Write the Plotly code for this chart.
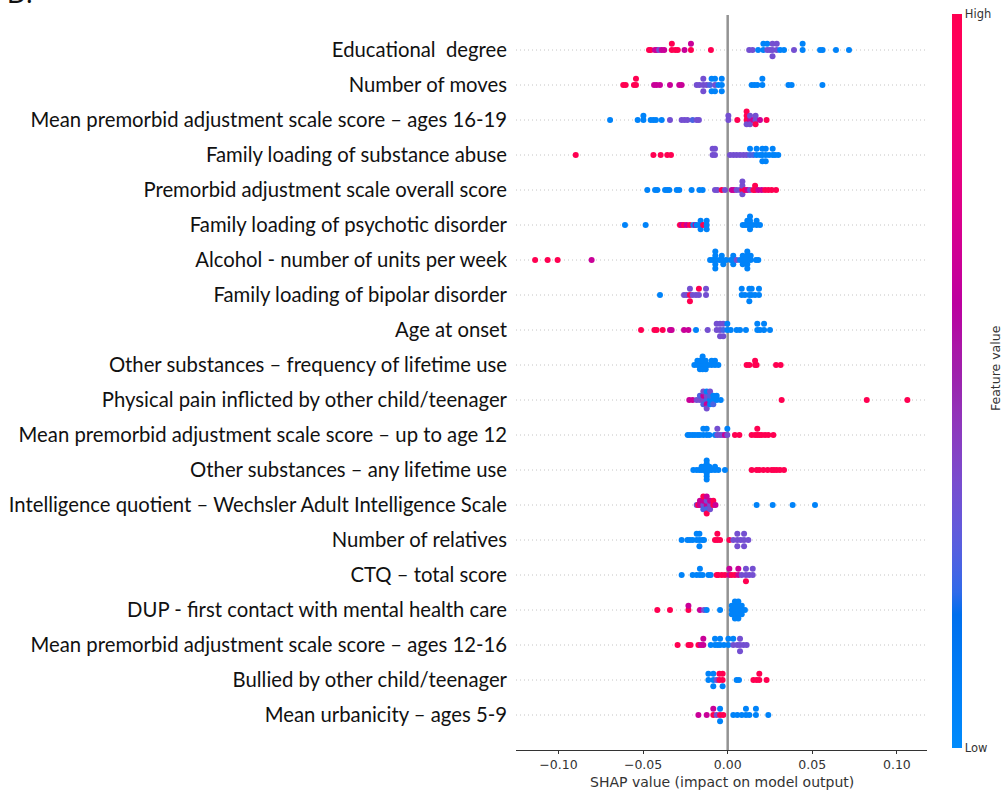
import numpy as np
import plotly.graph_objects as go

# feature-value levels (0 = low, 1 = high)
R, M, P, V, B = 1.0, 0.65, 0.35, 0.25, 0.05

features = [
    "Educational\u00a0 degree",
    "Number of moves",
    "Mean premorbid adjustment scale score – ages 16-19",
    "Family loading of substance abuse",
    "Premorbid adjustment scale overall score",
    "Family loading of psychotic disorder",
    "Alcohol - number of units per week",
    "Family loading of bipolar disorder",
    "Age at onset",
    "Other substances – frequency of lifetime use",
    "Physical pain inflicted by other child/teenager",
    "Mean premorbid adjustment scale score – up to age 12",
    "Other substances – any lifetime use",
    "Intelligence quotient – Wechsler Adult Intelligence Scale",
    "Number of relatives",
    "CTQ – total score",
    "DUP - first contact with mental health care",
    "Mean premorbid adjustment scale score – ages 12-16",
    "Bullied by other child/teenager",
    "Mean urbanicity – ages 5-9",
]

educational_shap = [-0.0465, -0.0455, -0.043, -0.0418, -0.0405, -0.039, -0.0375, -0.033, -0.033, -0.031,
                    -0.0295, -0.0255, -0.0217, -0.0217, -0.0099,
                    0.0127, 0.0147, 0.018, 0.0211, 0.0211, 0.0234, 0.0234, 0.025, 0.0265, 0.0265, 0.0265,
                    0.029, 0.029, 0.031, 0.0333, 0.0392, 0.0443, 0.0443, 0.0546, 0.0561, 0.064, 0.0717]
educational_level = [R, R, M, M, P, M, M, R, R, R, R, M, R, M, R,
                     P, P, B, B, B, P, B, P, P, P, P, P, P, B, B, P, B, B, B, B, B, B]

moves_shap = [-0.0617, -0.0603, -0.0554, -0.0542, -0.0542, -0.0435, -0.042, -0.040, -0.0341, -0.0286,
              -0.0272, -0.0183, -0.0167, -0.0144, -0.0144, -0.0144, -0.0124, -0.0105, -0.0095, -0.0095,
              -0.0075, -0.0075, -0.0075, -0.0055, -0.0035, -0.0035, -0.0035,
              0.0142, 0.0158, 0.0175, 0.0205, 0.0205, 0.0359, 0.0378, 0.056]
moves_level = [R, R, R, R, R, M, M, M, M, M, M, P, P, P, P, P, P, V, B, B, P, B, B, B, B, B, B,
               B, B, B, B, B, B, B, B]

pas_16_19_shap = [-0.0695, -0.0532, -0.0498, -0.0498, -0.0455, -0.0439, -0.0424, -0.039, -0.0341, -0.0272,
                  -0.0255, -0.0238, -0.0207, -0.0183, -0.017,
                  0.0004, 0.0004, 0.0057, 0.0112, 0.0112, 0.0112, 0.0112, 0.0132, 0.0132, 0.0132, 0.0152,
                  0.0165, 0.0165, 0.0165, 0.0191, 0.023]
pas_16_19_level = [B, B, B, B, B, B, B, B, P, P, P, P, V, P, P,
                   P, P, R, R, R, P, R, M, P, P, M, P, P, R, M, R]

substance_family_shap = [-0.0898, -0.0439, -0.0396, -0.0357, -0.0335, -0.0089, -0.0089, -0.0075, -0.0075,
                         0.0014, 0.0034, 0.0053, 0.0073, 0.0093, 0.0112, 0.0132, 0.0132, 0.0152, 0.0171,
                         0.0171, 0.0191, 0.0205, 0.0205, 0.0205, 0.0225, 0.0225, 0.0225, 0.0245, 0.0266,
                         0.0266, 0.028, 0.0299]
substance_family_level = [R, R, R, R, R, P, P, P, P,
                          P, P, P, P, P, P, V, B, V, B, B, B, B, B, B, B, B, B, B, B, B, B, B]

pas_overall_shap = [-0.0475, -0.0429, -0.0416, -0.037, -0.0357, -0.0345, -0.0301, -0.0286, -0.0213, -0.0167,
                    -0.0148, -0.0075, -0.0061, -0.0035, -0.0016,
                    0.0024, 0.0037, 0.0053, 0.0073, 0.0087, 0.0087, 0.0087, 0.0087, 0.0102, 0.0116, 0.0132,
                    0.0152, 0.0162, 0.0162, 0.0181, 0.0201, 0.0221, 0.024, 0.026, 0.0286]
pas_overall_level = [B, B, B, B, B, B, B, B, B, B, B, P, P, R, P,
                     M, M, P, P, R, P, P, P, R, M, P, R, R, R, M, M, R, R, R, R]

psychotic_family_shap = [-0.0607, -0.0485, -0.0282, -0.027, -0.0258, -0.0242, -0.0223, -0.0203, -0.019,
                         -0.0183, -0.016, -0.016, -0.016, -0.0145, -0.0124, -0.0124, -0.0124,
                         0.0089, 0.0102, 0.0116, 0.0116, 0.0132, 0.0132, 0.0132, 0.0132, 0.0148, 0.0171,
                         0.0171, 0.0191]
psychotic_family_level = [B, B, R, M, R, M, R, B, M, B, B, B, B, R, B, B, B,
                          B, B, B, B, B, B, B, B, B, B, B, B]

alcohol_shap = [-0.1138, -0.1064, -0.1005, -0.0804, -0.0104, -0.0089, -0.0073, -0.0073, -0.0073, -0.0073,
                -0.0073, -0.0049, -0.0035, -0.0035, -0.0026, -0.001, 0.0018, 0.0033, 0.0033, 0.0033,
                0.0053, 0.0073, 0.0089, 0.0089, 0.0089, 0.0102, 0.0116, 0.0116, 0.0116, 0.0116, 0.0116,
                0.0136, 0.0136, 0.0167, 0.0181]
alcohol_level = [R, R, R, M, B, B, B, B, B, B, B, B, B, B, B, B, B, B, B, B,
                 P, B, B, B, B, B, B, B, B, B, B, B, B, B, B]

bipolar_family_shap = [-0.040, -0.0258, -0.0242, -0.0223, -0.0223, -0.0223, -0.0207, -0.0187, -0.017,
                       -0.017, -0.0128, -0.0128,
                       0.0083, 0.0083, 0.0102, 0.0128, 0.0128, 0.0128, 0.0142, 0.0142, 0.0162, 0.0185,
                       0.0185]
bipolar_family_level = [B, P, P, R, P, R, P, P, P, R, P, P,
                        B, B, B, B, B, B, B, B, B, B, B]

onset_shap = [-0.0512, -0.0433, -0.042, -0.0384, -0.0341, -0.0331, -0.0258, -0.0232, -0.0187, -0.0118,
              -0.0065, -0.0065, -0.0045, -0.0045, -0.0045, -0.0026, -0.0026, -0.0026, -0.0002, -0.0002,
              0.0018, 0.0053, 0.0073, 0.0108, 0.0175, 0.0175, 0.0191, 0.0215, 0.0215, 0.025]
onset_level = [R, R, R, R, M, M, M, M, B, P, P, P, P, P, P, V, P, P, B, B,
               B, B, B, B, B, B, B, B, B, B]

substance_freq_shap = [-0.0197, -0.0179, -0.0179, -0.0164, -0.0164, -0.0164, -0.0148, -0.0148, -0.0148,
                       -0.0148, -0.013, -0.013, -0.013, -0.0114, -0.0095, -0.0095, -0.0075, -0.0075,
                       -0.0055, 0.0112, 0.0128, 0.0162, 0.0162, 0.0171, 0.0286, 0.0313]
substance_freq_level = [B, B, B, B, B, B, B, B, B, B, B, B, B, B, B, B, B, B, B,
                        R, R, R, R, R, R, R]

physical_pain_shap = [-0.0227, -0.0207, -0.0183, -0.0164, -0.0164, -0.0144, -0.0144, -0.0144, -0.0144,
                      -0.0124, -0.0124, -0.0124, -0.0124, -0.0124, -0.0104, -0.0104, -0.0104, -0.0104,
                      -0.0085, -0.0085, -0.0085, -0.0065, -0.0065, -0.0041, 0.0319, 0.0822, 0.1062]
physical_pain_level = [M, M, P, P, V, P, M, V, P, V, P, M, B, P, B, V, B, P, B, B, V, B, B, B, R, R, R]

pas_12_shap = [-0.0236, -0.0223, -0.0207, -0.0193, -0.0177, -0.0164, -0.0144, -0.0144, -0.0124, -0.0124,
               -0.0108, -0.0075, -0.0061, -0.0061, -0.0045, -0.003, -0.0016, -0.0002, -0.0002, 0.0043,
               0.0069, 0.0142, 0.0162, 0.0175, 0.0175, 0.0188, 0.0201, 0.0221, 0.024, 0.027]
pas_12_level = [B, B, B, B, B, B, B, B, B, B, B, B, P, P, P, P, M, P, B, R,
                R, R, R, R, R, R, R, R, R, R]

substance_any_shap = [-0.0203, -0.0183, -0.0167, -0.0154, -0.0154, -0.014, -0.014, -0.0124, -0.0124,
                      -0.0124, -0.0124, -0.0124, -0.0124, -0.0124, -0.0108, -0.0108, -0.0095, -0.0075,
                      -0.0075, -0.0055, -0.0016,
                      0.0142, 0.0171, 0.0187, 0.0211, 0.0236, 0.026, 0.0274, 0.029, 0.0309, 0.0333]
substance_any_level = [B, B, B, B, B, B, B, B, B, B, B, B, B, B, B, B, B, B, B, B, B,
                       R, R, R, R, R, R, R, R, R, R]

iq_shap = [-0.0183, -0.0175, -0.0164, -0.0164, -0.0144, -0.0144, -0.0144, -0.0144, -0.0124, -0.0124,
           -0.0124, -0.0124, -0.0124, -0.0104, -0.0104, -0.0104, -0.0085, -0.0085, -0.0072,
           0.0171, 0.0266, 0.0384, 0.0516]
iq_level = [P, R, M, M, P, M, V, R, M, P, V, M, R, P, M, P, R, R, M, B, B, B, B]

relatives_shap = [-0.0272, -0.0238, -0.0223, -0.0207, -0.0183, -0.0183, -0.0167, -0.0167, -0.0167, -0.015,
                  -0.014, -0.0075, -0.0061, -0.0061, -0.0045, 0.001, 0.0033, 0.0057, 0.0057, 0.0057,
                  0.0077, 0.0097, 0.0097, 0.0097, 0.0122]
relatives_level = [B, B, B, B, B, B, B, B, B, B, B, R, R, R, R, R, P, P, P, P, P, P, P, P, P]

ctq_shap = [-0.0272, -0.0207, -0.0183, -0.0164, -0.0164, -0.0148, -0.0114, -0.010, -0.0065, -0.0055,
            -0.0035, -0.0016, 0.001, 0.001, 0.0024, 0.0043, 0.0063, 0.0063, 0.0083, 0.0108, 0.0108,
            0.0108, 0.0128, 0.0148, 0.0148]
ctq_level = [B, B, B, B, B, B, B, B, R, R, R, R, M, M, R, R, M, M, P, P, P, R, P, P, P]

dup_shap = [-0.0416, -0.0341, -0.0232, -0.0232, -0.0164, -0.014, -0.0124, -0.0045, 0.0024, 0.0024,
            0.0024, 0.0043, 0.0043, 0.0043, 0.0043, 0.0043, 0.0063, 0.0063, 0.0063, 0.0063, 0.0063,
            0.0083, 0.0083, 0.0083, 0.0102]
dup_level = [R, R, R, M, M, P, B, B, B, B, B, B, B, B, B, B, B, B, B, B, B, B, B, B, B]

pas_12_16_shap = [-0.0296, -0.0232, -0.0219, -0.0173, -0.0158, -0.0144, -0.0144, -0.010, -0.0075, -0.0075,
                  -0.0059, -0.0045, -0.0045, -0.0022, 0.0004, 0.0004, 0.0033, 0.0033, 0.0057, 0.0073,
                  0.0073, 0.0073, 0.0093, 0.0112]
pas_12_16_level = [R, R, R, R, M, M, M, B, B, B, B, B, B, B, B, B, P, B, P, P, P, P, P, P]

bullied_shap = [-0.0114, -0.0114, -0.0085, -0.0085, -0.0085, -0.0065, -0.0049, -0.0049, -0.003, -0.003,
                -0.003, 0.0053, 0.0067, 0.0152, 0.0171, 0.0187, 0.0187, 0.023]
bullied_level = [B, B, B, B, B, P, R, R, R, R, B, B, B, R, R, R, R, R]

urbanicity_shap = [-0.0173, -0.0124, -0.0085, -0.0085, -0.0065, -0.0045, -0.0045, -0.0045, -0.0026, 0.0033,
                   0.0057, 0.0083, 0.0108, 0.0108, 0.0128, 0.0167, 0.0167, 0.024]
urbanicity_level = [M, M, R, M, P, R, B, B, R, B, B, B, B, B, B, B, B, B]

rows = [
    (educational_shap, educational_level),
    (moves_shap, moves_level),
    (pas_16_19_shap, pas_16_19_level),
    (substance_family_shap, substance_family_level),
    (pas_overall_shap, pas_overall_level),
    (psychotic_family_shap, psychotic_family_level),
    (alcohol_shap, alcohol_level),
    (bipolar_family_shap, bipolar_family_level),
    (onset_shap, onset_level),
    (substance_freq_shap, substance_freq_level),
    (physical_pain_shap, physical_pain_level),
    (pas_12_shap, pas_12_level),
    (substance_any_shap, substance_any_level),
    (iq_shap, iq_level),
    (relatives_shap, relatives_level),
    (ctq_shap, ctq_level),
    (dup_shap, dup_level),
    (pas_12_16_shap, pas_12_16_level),
    (bullied_shap, bullied_level),
    (urbanicity_shap, urbanicity_level),
]


def swarm_offsets(values, nbins=100, row_height=0.4):
    """Beeswarm layering: points in the same bin alternate above / below the row."""
    v = np.asarray(values, dtype=float)
    quant = np.round(nbins * (v - v.min()) / (v.max() - v.min() + 1e-8))
    order = np.argsort(quant, kind="stable")
    ys = np.zeros(len(v))
    layer, last_bin = 0, None
    for i in order:
        if quant[i] != last_bin:
            layer = 0
        ys[i] = np.ceil(layer / 2) * ((layer % 2) * 2 - 1)
        layer += 1
        last_bin = quant[i]
    ys *= 0.9 * (row_height / np.max(ys + 1))
    return ys


def lch_to_rgb(l, c, h):
    a, b = c * np.cos(h), c * np.sin(h)
    fy = (l + 16) / 116
    fx, fz = fy + a / 500, fy - b / 200

    def finv(t):
        return t ** 3 if t > 6 / 29 else 3 * (6 / 29) ** 2 * (t - 4 / 29)

    X, Y, Z = 0.95047 * finv(fx), finv(fy), 1.08883 * finv(fz)
    lin = (3.2406 * X - 1.5372 * Y - 0.4986 * Z,
           -0.9689 * X + 1.8758 * Y + 0.0415 * Z,
           0.0557 * X - 0.2040 * Y + 1.0570 * Z)

    def gamma(u):
        u = min(max(u, 0.0), 1.0)
        return 1.055 * u ** (1 / 2.4) - 0.055 if u > 0.0031308 else 12.92 * u

    return tuple(int(round(255 * gamma(u))) for u in lin)


# blue -> purple -> red scale, interpolated in LCH space
nsteps = 100
l_vals = list(np.linspace(54, 40, nsteps // 2)) + list(np.linspace(40, 54, nsteps // 2))
c_vals = np.linspace(70, 90, nsteps)
h_vals = np.linspace(4.6588, 0.35470565 + 2 * np.pi, nsteps)
stops = np.linspace(0, 1, nsteps)
colorscale = []
for k in range(0, nsteps, 3):
    colorscale.append([float(stops[k]), "rgb(%d,%d,%d)" % lch_to_rgb(l_vals[k], c_vals[k], h_vals[k])])
if colorscale[-1][0] < 1:
    colorscale.append([1.0, "rgb(%d,%d,%d)" % lch_to_rgb(l_vals[-1], c_vals[-1], h_vals[-1])])

n = len(features)
xs, ys, cs = [], [], []
for idx, (vals, lev) in enumerate(rows):
    pos = n - 1 - idx
    off = swarm_offsets(vals)
    xs.extend(vals)
    ys.extend(pos + off)
    cs.extend(lev)

fig = go.Figure()
fig.add_trace(go.Scatter(
    x=xs, y=ys, mode="markers", hoverinfo="skip",
    marker=dict(
        size=6, color=cs, colorscale=colorscale, cmin=0, cmax=1,
        line=dict(width=0), opacity=1,
        colorbar=dict(
            thickness=10, thicknessmode="pixels",
            len=734, lenmode="pixels",
            x=1.06, xanchor="left", xpad=0,
            y=0.502, yanchor="middle", ypad=0,
            outlinewidth=0,
            tickvals=[0, 1], ticktext=["Low", "High"], ticks="",
            tickfont=dict(family="DejaVu Sans", size=11.5, color="#333333"),
        ),
    ),
    showlegend=False,
))

shapes = []
for pos in range(n):
    shapes.append(dict(type="line", xref="paper", x0=0, x1=1, yref="y", y0=pos, y1=pos,
                       line=dict(color="#c4c4c4", width=1, dash="1px,3px"), layer="below"))
shapes.append(dict(type="line", xref="x", x0=0, x1=0, yref="paper", y0=0, y1=1,
                   line=dict(color="#939393", width=2.5), layer="below"))

fig.update_layout(
    width=1003, height=791,
    margin=dict(l=516, r=76, t=15, b=41, autoexpand=False),
    paper_bgcolor="white", plot_bgcolor="white",
    shapes=shapes,
    xaxis=dict(
        range=[-0.1251, 0.1178], automargin=False,
        tickvals=[-0.1, -0.05, 0, 0.05, 0.1],
        ticktext=["\u22120.10", "\u22120.05", "0.00", "0.05", "0.10"],
        showline=True, linecolor="#333333", linewidth=1,
        ticks="outside", ticklen=3, tickwidth=1, tickcolor="#333333",
        tickfont=dict(family="DejaVu Sans", size=12.5, color="#333333"),
        showgrid=False, zeroline=False,
    ),
    yaxis=dict(
        range=[-1, n], automargin=False,
        tickvals=list(range(n - 1, -1, -1)), ticktext=features,
        showgrid=False, zeroline=False, showline=False, ticks="",
        tickfont=dict(family="Lato", size=20.3, color="#111111"),
        ticklabelstandoff=8,
    ),
    annotations=[
        dict(text="SHAP value (impact on model output)", xref="paper", yref="paper",
             x=0.5, y=-0.0435, xanchor="center", yanchor="middle", showarrow=False,
             font=dict(family="DejaVu Sans", size=14, color="#333333")),
        dict(text="Feature value", xref="paper", yref="paper",
             x=(995 - 516) / 411, y=(750 - 368) / 735, xanchor="center", yanchor="middle",
             textangle=-90, showarrow=False,
             font=dict(family="DejaVu Sans", size=12.5, color="#333333")),
        dict(text="D.", xref="paper", yref="paper",
             x=(5 - 516) / 411, y=(750 + 7) / 735, xanchor="left", yanchor="middle",
             showarrow=False, font=dict(family="Lato", size=26, color="#111111")),
    ],
)

fig.write_html("out.html")
